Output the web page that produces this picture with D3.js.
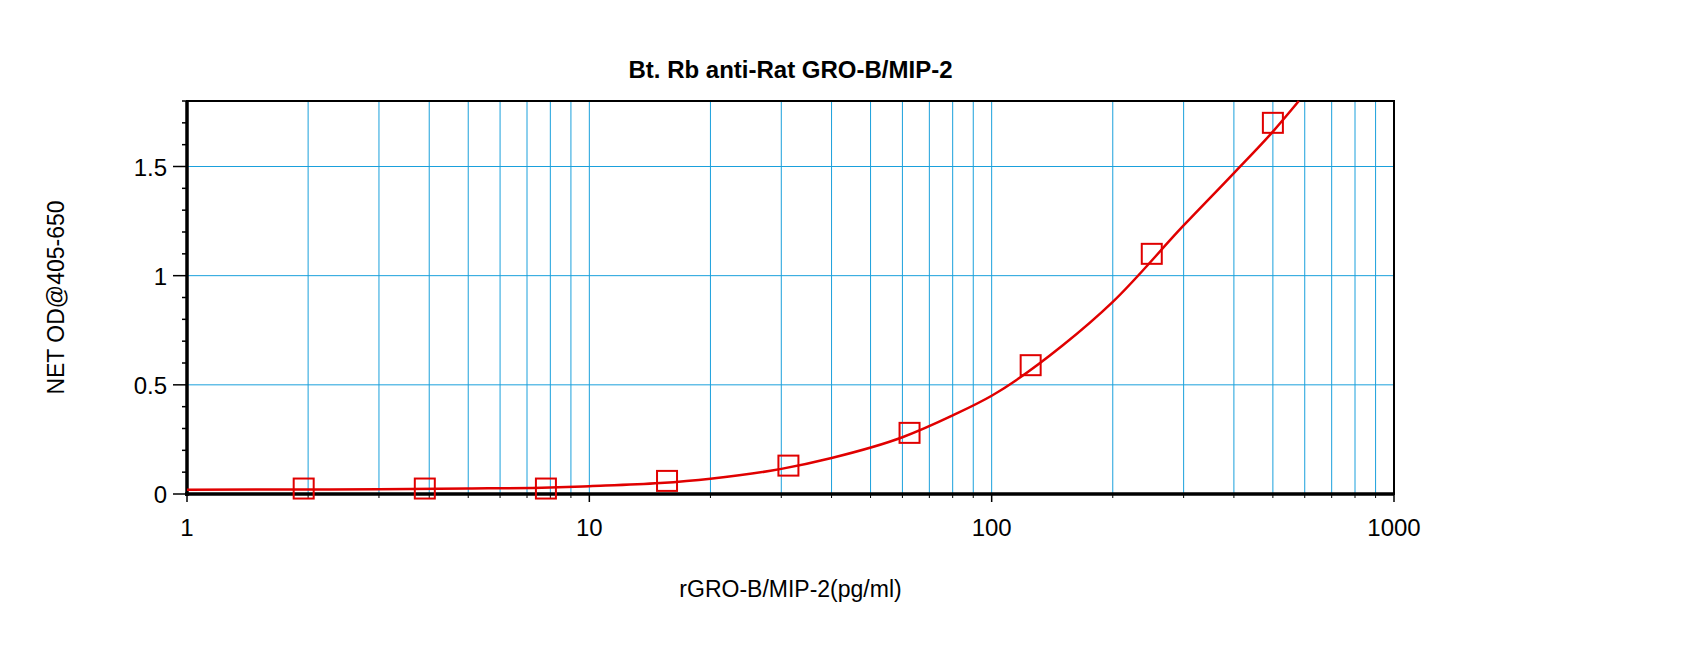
<!DOCTYPE html><html><head><meta charset="utf-8">
<script src="https://cdn.jsdelivr.net/npm/d3@7"></script>
<style>body{margin:0;background:#fff}</style></head><body>
<svg id="c" width="1700" height="668"></svg>
<script>
const title = "Bt. Rb anti-Rat GRO-B/MIP-2";
const xLabel = "rGRO-B/MIP-2(pg/ml)";
const yLabel = "NET OD@405-650";
const pointX = [1.95, 3.9, 7.8, 15.6, 31.25, 62.5, 125, 250, 500];
const pointY = [0.025, 0.025, 0.025, 0.06, 0.13, 0.28, 0.59, 1.10, 1.70];
const curveX = [1, 3, 5, 8, 10, 15, 20, 30, 40, 60, 80, 100, 150, 200, 300, 400, 500, 580];
const curveY = [0.02, 0.022, 0.025, 0.03, 0.036, 0.05, 0.07, 0.115, 0.165, 0.26, 0.36, 0.45, 0.68, 0.88, 1.23, 1.47, 1.66, 1.8];
const xTicks = [1, 10, 100, 1000];
const yTicks = [0, 0.5, 1, 1.5];

const svg = d3.select("#c");
const L=187,R=1394,T=101,B=494;
const x = d3.scaleLog().domain([1,1000]).range([L,R]);
const y = d3.scaleLinear().domain([0,1.8]).range([B,T]);
const font="Arial, 'Liberation Sans', sans-serif";

const minor=[];
for (let d=1; d<1000; d*=10) for (let k=2;k<=9;k++) minor.push(d*k);
svg.append("g").selectAll("line").data(minor.concat([10,100])).join("line")
  .attr("x1",d=>x(d)).attr("x2",d=>x(d)).attr("y1",T).attr("y2",B)
  .attr("stroke","#1aa0dc").attr("stroke-width",1);
svg.append("g").selectAll("line").data(yTicks.slice(1)).join("line")
  .attr("x1",L).attr("x2",R).attr("y1",d=>y(d)).attr("y2",d=>y(d)).attr("stroke","#1aa0dc");

const yMinor = d3.range(0,19).map(i=>i/10);
svg.append("g").selectAll("line").data(yMinor).join("line")
  .attr("x1",d=>L-(Math.abs(d*2-Math.round(d*2))<1e-9?14:5)).attr("x2",L).attr("y1",d=>y(d)).attr("y2",d=>y(d))
  .attr("stroke","#000").attr("stroke-width",1.5);
svg.append("g").selectAll("line").data(xTicks).join("line")
  .attr("x1",d=>x(d)).attr("x2",d=>x(d)).attr("y1",B).attr("y2",B+8).attr("stroke","#000").attr("stroke-width",1.5);
svg.append("g").selectAll("line").data(minor).join("line")
  .attr("x1",d=>x(d)).attr("x2",d=>x(d)).attr("y1",B).attr("y2",B+4).attr("stroke","#000").attr("stroke-width",1);
svg.append("rect").attr("x",L).attr("y",T).attr("width",R-L).attr("height",B-T)
  .attr("fill","none").attr("stroke","#000").attr("stroke-width",2);
svg.append("line").attr("x1",L).attr("x2",L).attr("y1",T).attr("y2",B+2).attr("stroke","#000").attr("stroke-width",3.5);
svg.append("line").attr("x1",L-2).attr("x2",R).attr("y1",B).attr("y2",B).attr("stroke","#000").attr("stroke-width",3.5);

svg.append("g").selectAll("text").data(xTicks).join("text")
  .attr("x",d=>x(d)).attr("y",B+42).attr("text-anchor","middle").attr("font-family",font).attr("font-size",24).text(d=>d);
svg.append("g").selectAll("text").data(yTicks).join("text")
  .attr("x",L-20).attr("y",d=>y(d)+9).attr("text-anchor","end").attr("font-family",font).attr("font-size",24).text(d=>d);

svg.append("path").datum(curveX.map((v,i)=>[v,curveY[i]]))
  .attr("d",d3.line().x(d=>x(d[0])).y(d=>y(d[1])).curve(d3.curveMonotoneX))
  .attr("fill","none").attr("stroke","#e00000").attr("stroke-width",2.5);
svg.append("g").selectAll("rect").data(pointX.map((v,i)=>[v,pointY[i]])).join("rect")
  .attr("x",d=>x(d[0])-10).attr("y",d=>y(d[1])-10).attr("width",20).attr("height",20)
  .attr("fill","none").attr("stroke","#e00000").attr("stroke-width",2);

svg.append("text").attr("x",(L+R)/2).attr("y",78).attr("text-anchor","middle").attr("font-family",font)
  .attr("font-weight","bold").attr("font-size",24).text(title);
svg.append("text").attr("x",(L+R)/2).attr("y",597).attr("text-anchor","middle").attr("font-family",font)
  .attr("font-size",23).text(xLabel);
svg.append("text").attr("transform",`translate(64,${(T+B)/2}) rotate(-90)`).attr("text-anchor","middle").attr("font-family",font)
  .attr("font-size",23).text(yLabel);
</script></body></html>
